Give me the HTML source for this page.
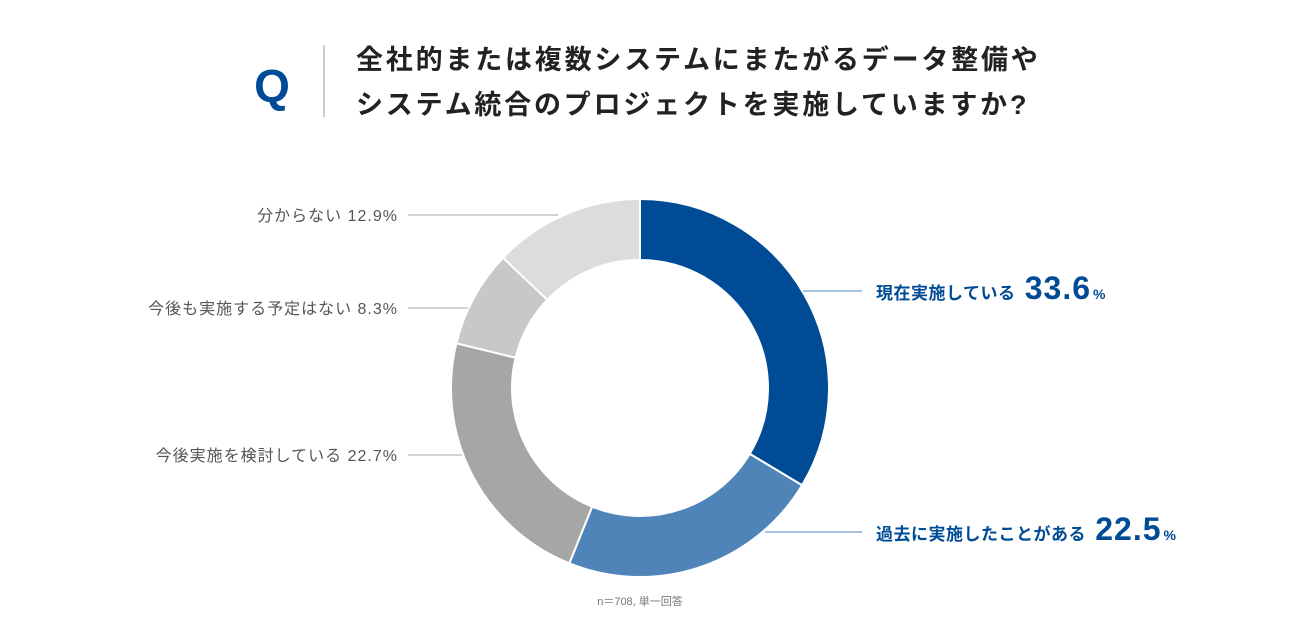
<!DOCTYPE html>
<html><head><meta charset="utf-8"><style>
body{margin:0;background:#fff;}
svg text{font-family:"Liberation Sans","Noto Sans CJK JP",sans-serif;}
</style></head><body>
<svg id="chart" width="1300" height="636" viewBox="0 0 1300 636" xmlns="http://www.w3.org/2000/svg">
<text x="272" y="102" font-size="46" fill="#004b96" font-weight="bold" text-anchor="middle">Q</text>
<line x1="324" y1="45" x2="324" y2="117" stroke="#999" stroke-width="1"/>
<text x="356" y="69" font-size="27" letter-spacing="2.8" font-weight="bold" fill="#222">全社的または複数システムにまたがるデータ整備や</text>
<text x="356" y="114" font-size="27" letter-spacing="2.8" font-weight="bold" fill="#222">システム統合のプロジェクトを実施していますか?</text>
<g id="slices"></g>
<g id="labels"></g>
<text x="640" y="605" font-size="11" fill="#777" text-anchor="middle">n＝708, 単一回答</text>
</svg>
<script>
const categories=["現在実施している","過去に実施したことがある","今後実施を検討している","今後も実施する予定はない","分からない"];
const values=[33.6,22.5,22.7,8.3,12.9];
const colors=["#004b96","#4f84b8","#a6a6a6","#c8c8c8","#dcdcdc"];
const NS="http://www.w3.org/2000/svg";
const cx=640,cy=388,R=189,r=128;
const total=values.reduce((a,b)=>a+b,0);
function pt(a,rad){return [cx+rad*Math.sin(a),cy-rad*Math.cos(a)];}
const g=document.getElementById('slices'),lg=document.getElementById('labels');
let acc=0;
values.forEach((v,i)=>{
 const a0=acc/total*2*Math.PI,a1=(acc+v)/total*2*Math.PI;acc+=v;
 const large=(a1-a0)>Math.PI?1:0;
 const [x0,y0]=pt(a0,R),[x1,y1]=pt(a1,R),[x2,y2]=pt(a1,r),[x3,y3]=pt(a0,r);
 const p=document.createElementNS(NS,'path');
 p.setAttribute('d',`M${x0},${y0}A${R},${R} 0 ${large} 1 ${x1},${y1}L${x2},${y2}A${r},${r} 0 ${large} 0 ${x3},${y3}Z`);
 p.setAttribute('fill',colors[i]);p.setAttribute('stroke','#fff');p.setAttribute('stroke-width','2');
 
 
 g.appendChild(p);
 const am=(a0+a1)/2;
 const right=Math.sin(am)>0;
 const line=document.createElementNS(NS,'line');
 const yL=(i===0?291:i===1?532:i===2?455:i===3?308:215);
 const sx=right?(i===0?803:765):(i===2?462:i===3?468:558);
 line.setAttribute('x1',sx);line.setAttribute('y1',yL);
 line.setAttribute('x2',right?862:408);line.setAttribute('y2',yL);
 line.setAttribute('stroke',right?'#4f84b8':'#aaa');line.setAttribute('stroke-width','1');
 
 
 lg.appendChild(line);
 const t=document.createElementNS(NS,'text');
 
 
 if(right){
  t.setAttribute('x',876);t.setAttribute('y',yL+8);t.setAttribute('fill','#004b96');
  t.innerHTML=`<tspan font-size="17" font-weight="bold" letter-spacing="0.5">${categories[i]} </tspan><tspan font-size="32" font-weight="bold" letter-spacing="1" dx="4">${v.toFixed(1)}</tspan><tspan font-size="14" font-weight="bold" dx="2">%</tspan>`;
 }else{
  t.setAttribute('x',398);t.setAttribute('y',yL+6);t.setAttribute('fill','#555');t.setAttribute('text-anchor','end');
  t.setAttribute('font-size','16');t.setAttribute('letter-spacing','1');
  t.textContent=categories[i]+' '+v.toFixed(1)+'%';
 }
 lg.appendChild(t);
});
</script>
</body></html>
